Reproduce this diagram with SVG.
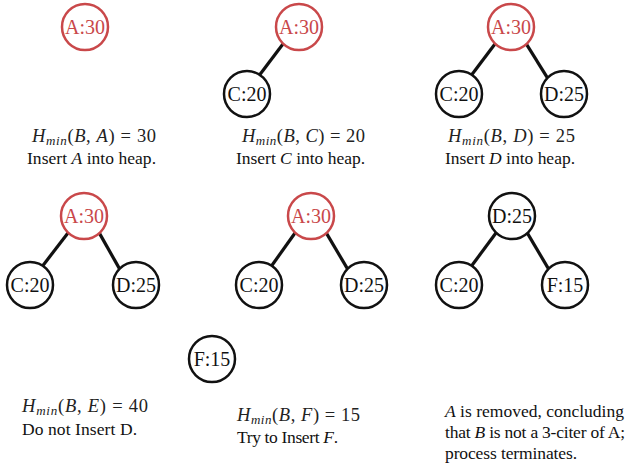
<svg xmlns="http://www.w3.org/2000/svg" width="633" height="469" viewBox="0 0 633 469" font-family="'Liberation Serif', 'Times New Roman', Times, serif">
<style>
.n circle{fill:#fff;stroke:#111;stroke-width:2.5}
.n text{font-size:20px;text-anchor:middle;fill:#111}
.r circle{stroke:#c9484a}
.r text{fill:#c9484a}
.e line{stroke:#111;stroke-width:3.2;stroke-linecap:butt}
.t{font-size:17.5px;fill:#111}
.m{font-size:18.5px;fill:#222}
.i{font-style:italic}
.s{font-style:italic;font-size:13px}
</style>
<rect width="633" height="469" fill="#fff"/>
<g id="connectors" class="e">
<line x1="283.9" y1="42.8" x2="258.6" y2="76.2"/>
<line x1="495.9" y1="42.8" x2="470.6" y2="76.2"/>
<line x1="525.5" y1="42.6" x2="549" y2="80.4"/>
<line x1="68.9" y1="231.8" x2="41.6" y2="267.2"/>
<line x1="98.5" y1="231.6" x2="121" y2="271.4"/>
<line x1="295.9" y1="231.8" x2="270.6" y2="267.2"/>
<line x1="325.5" y1="231.6" x2="349" y2="271.4"/>
<line x1="496.9" y1="231.8" x2="470.6" y2="267.2"/>
<line x1="526.5" y1="231.6" x2="550" y2="271.4"/>
</g>
<g id="p1-A" class="n r"><circle cx="85" cy="27" r="23"/><text x="85" y="34">A:30</text></g>
<g id="p2-A" class="n r"><circle cx="299" cy="27" r="23"/><text x="299" y="34">A:30</text></g>
<g id="p2-C" class="n"><circle cx="247" cy="94" r="23"/><text x="247" y="101">C:20</text></g>
<g id="p3-A" class="n r"><circle cx="511" cy="27" r="23"/><text x="511" y="34">A:30</text></g>
<g id="p3-C" class="n"><circle cx="459" cy="94" r="23"/><text x="459" y="101">C:20</text></g>
<g id="p3-D" class="n"><circle cx="564" cy="94" r="23"/><text x="564" y="101">D:25</text></g>
<g id="p4-A" class="n r"><circle cx="84" cy="216" r="23"/><text x="84" y="223">A:30</text></g>
<g id="p4-C" class="n"><circle cx="30" cy="285" r="23"/><text x="30" y="292">C:20</text></g>
<g id="p4-D" class="n"><circle cx="136" cy="285" r="23"/><text x="136" y="292">D:25</text></g>
<g id="p5-A" class="n r"><circle cx="311" cy="216" r="23"/><text x="311" y="223">A:30</text></g>
<g id="p5-C" class="n"><circle cx="259" cy="285" r="23"/><text x="259" y="292">C:20</text></g>
<g id="p5-D" class="n"><circle cx="364" cy="285" r="23"/><text x="364" y="292">D:25</text></g>
<g id="p5-F" class="n"><circle cx="212" cy="359" r="23"/><text x="212" y="366">F:15</text></g>
<g id="p6-D" class="n"><circle cx="512" cy="216" r="23"/><text x="512" y="223">D:25</text></g>
<g id="p6-C" class="n"><circle cx="459" cy="285" r="23"/><text x="459" y="292">C:20</text></g>
<g id="p6-F" class="n"><circle cx="565" cy="285" r="23"/><text x="565" y="292">F:15</text></g>
<g id="captions">
<text class="m" x="32" y="142" textLength="124" lengthAdjust="spacing"><tspan class="i">H</tspan><tspan class="s" dy="3">min</tspan><tspan dy="-3">(</tspan><tspan class="i">B</tspan>, <tspan class="i">A</tspan>) = 30</text>
<text class="t" x="27" y="164" textLength="129" lengthAdjust="spacing">Insert <tspan class="i">A</tspan> into heap.</text>
<text class="m" x="242" y="142" textLength="123" lengthAdjust="spacing"><tspan class="i">H</tspan><tspan class="s" dy="3">min</tspan><tspan dy="-3">(</tspan><tspan class="i">B</tspan>, <tspan class="i">C</tspan>) = 20</text>
<text class="t" x="236" y="164" textLength="129" lengthAdjust="spacing">Insert <tspan class="i">C</tspan> into heap.</text>
<text class="m" x="448" y="142" textLength="127" lengthAdjust="spacing"><tspan class="i">H</tspan><tspan class="s" dy="3">min</tspan><tspan dy="-3">(</tspan><tspan class="i">B</tspan>, <tspan class="i">D</tspan>) = 25</text>
<text class="t" x="445" y="164" textLength="130" lengthAdjust="spacing">Insert <tspan class="i">D</tspan> into heap.</text>
<text class="m" x="22" y="412" textLength="126" lengthAdjust="spacing"><tspan class="i">H</tspan><tspan class="s" dy="3">min</tspan><tspan dy="-3">(</tspan><tspan class="i">B</tspan>, <tspan class="i">E</tspan>) = 40</text>
<text class="t" x="22" y="435" textLength="115" lengthAdjust="spacing">Do not Insert D.</text>
<text class="m" x="237" y="421" textLength="123" lengthAdjust="spacing"><tspan class="i">H</tspan><tspan class="s" dy="3">min</tspan><tspan dy="-3">(</tspan><tspan class="i">B</tspan>, <tspan class="i">F</tspan>) = 15</text>
<text class="t" x="237" y="443" textLength="101" lengthAdjust="spacing">Try to Insert <tspan class="i">F</tspan>.</text>
<text class="t" x="445" y="417" textLength="179" lengthAdjust="spacing"><tspan class="i">A</tspan> is removed, concluding</text>
<text class="t" x="445" y="438" textLength="180" lengthAdjust="spacing">that <tspan class="i">B</tspan> is not a 3-citer of A;</text>
<text class="t" x="445" y="459" textLength="132" lengthAdjust="spacing">process terminates.</text>
</g>
</svg>
